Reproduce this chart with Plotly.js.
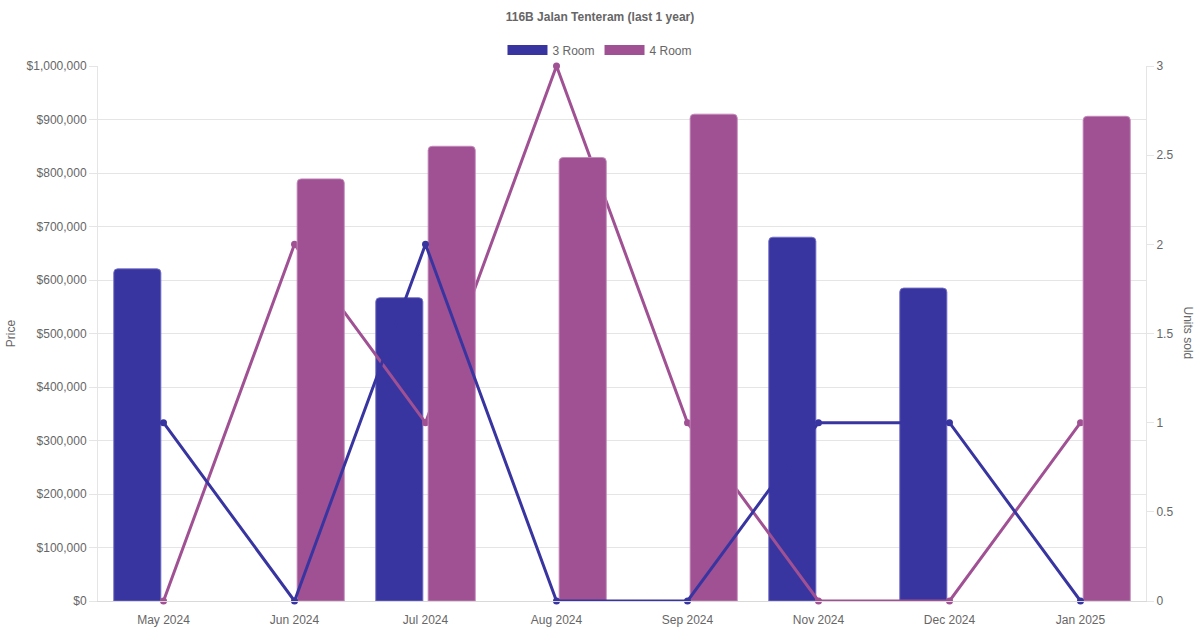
<!DOCTYPE html>
<html>
<head>
<meta charset="utf-8">
<script src="https://cdn.plot.ly/plotly-3.0.1.min.js"></script>
<style>
  html, body { margin: 0; padding: 0; background: #fff; }
  #chart { width: 1200px; height: 630px; }
</style>
</head>
<body>
<div id="chart"></div>
<script>
// Months shown (no sales data for Oct 2024)
const months = ['May 2024', 'Jun 2024', 'Jul 2024', 'Aug 2024', 'Sep 2024', 'Nov 2024', 'Dec 2024', 'Jan 2025'];

// Median price per month (null = no transaction that month)
const price3Room = [621000, null, 567000, null, null, 680000, 585000, null];
const price4Room = [null, 789000, 850000, 829000, 910000, null, null, 906000];

// Units sold per month
const units3Room = [1, 0, 2, 0, 0, 1, 1, 0];
const units4Room = [0, 2, 1, 3, 1, 0, 0, 1];

const COLOR_3 = '#3935a0';
const COLOR_4 = '#a05193';
const FONT = 'Liberation Sans, Arial, Helvetica, sans-serif';
const GRID = '#e5e5e5';

// Draw order (bottom → top) follows the reference:
//   3 Room bar (y), 4 Room line (y2), 4 Room bar (y3), 3 Room line (y4)
const traces = [
  {
    type: 'bar',
    name: '3 Room',
    x: months,
    y: price3Room,
    yaxis: 'y',
    offset: -0.38,
    width: 0.36,
    showlegend: false,
    marker: { color: COLOR_3, cornerradius: 4, line: { color: 'rgba(120,116,200,0.9)', width: 1 } },
    hovertemplate: '3 Room<br>%{x}: $%{y:,}<extra></extra>',
  },
  {
    type: 'scatter',
    mode: 'lines+markers',
    name: '4 Room units',
    x: months,
    y: units4Room,
    yaxis: 'y2',
    showlegend: false,
    cliponaxis: false,
    line: { color: COLOR_4, width: 3 },
    marker: { color: COLOR_4, size: 7 },
  },
  {
    type: 'bar',
    name: '4 Room',
    x: months,
    y: price4Room,
    yaxis: 'y3',
    offset: 0.02,
    width: 0.36,
    showlegend: false,
    marker: { color: COLOR_4, cornerradius: 4, line: { color: 'rgba(196,140,186,0.9)', width: 1 } },
    hovertemplate: '4 Room<br>%{x}: $%{y:,}<extra></extra>',
  },
  {
    type: 'scatter',
    mode: 'lines+markers',
    name: '3 Room units',
    x: months,
    y: units3Room,
    yaxis: 'y4',
    showlegend: false,
    cliponaxis: false,
    line: { color: COLOR_3, width: 3 },
    marker: { color: COLOR_3, size: 7 },
  },
  // Legend-only entries: wide boxes like the reference legend
  {
    type: 'scatter', mode: 'lines', name: '3 Room',
    x: [null], y: [null], hoverinfo: 'skip',
    line: { color: COLOR_3, width: 12 },
  },
  {
    type: 'scatter', mode: 'lines', name: '4 Room',
    x: [null], y: [null], hoverinfo: 'skip',
    line: { color: COLOR_4, width: 12 },
  },
];

const priceAxis = {
  range: [0, 1000000],
  autorange: false,
  dtick: 100000,
  tickprefix: '$',
  tickformat: ',d',
};
const unitsAxis = {
  range: [0, 3],
  autorange: false,
  dtick: 0.5,
};

const layout = {
  width: 1200,
  height: 630,
  paper_bgcolor: '#fff',
  plot_bgcolor: '#fff',
  font: { family: FONT, size: 12, color: '#666' },
  margin: { t: 66, r: 54, b: 29, l: 98 },
  title: {
    text: '<b>116B Jalan Tenteram (last 1 year)</b>',
    font: { family: FONT, size: 12, color: '#666' },
    x: 0.5,
    xref: 'container',
    y: 0.973,
    yanchor: 'middle',
  },
  showlegend: true,
  legend: {
    orientation: 'h',
    x: 0.479,
    xanchor: 'center',
    y: 1.03,
    yanchor: 'middle',
    font: { family: FONT, size: 12, color: '#666' },
    itemwidth: 40,
    bgcolor: 'rgba(0,0,0,0)',
  },
  xaxis: {
    type: 'category',
    categoryorder: 'array',
    categoryarray: months,
    range: [-0.5, months.length - 0.5],
    showgrid: false,
    zeroline: false,
    showline: true,
    linecolor: '#d9d9d9',
    ticks: 'outside',
    ticklen: 8,
    tickcolor: 'rgba(0,0,0,0)',
    tickfont: { family: FONT, size: 12, color: '#666' },
  },
  yaxis: {
    ...priceAxis,
    side: 'left',
    showgrid: true,
    gridcolor: GRID,
    zeroline: false,
    showline: true,
    linecolor: GRID,
    ticks: 'outside',
    ticklen: 8,
    tickcolor: GRID,
    tickfont: { family: FONT, size: 12, color: '#666' },
    title: { text: 'Price', font: { family: FONT, size: 12, color: '#666' }, standoff: 8 },
  },
  yaxis2: {
    ...unitsAxis,
    overlaying: 'y',
    side: 'right',
    showgrid: false,
    zeroline: false,
    showline: true,
    linecolor: GRID,
    ticks: 'outside',
    ticklen: 7,
    tickcolor: GRID,
    tickfont: { family: FONT, size: 12, color: '#666' },
  },
  yaxis3: { ...priceAxis, overlaying: 'y', visible: false },
  yaxis4: { ...unitsAxis, overlaying: 'y', visible: false },
  annotations: [
    {
      text: 'Units sold',
      xref: 'paper',
      yref: 'paper',
      x: 1.041,
      xanchor: 'center',
      y: 0.5,
      yanchor: 'middle',
      textangle: 90,
      showarrow: false,
      font: { family: FONT, size: 12, color: '#666' },
    },
  ],
};

const config = { displayModeBar: false, staticPlot: true };

Plotly.newPlot('chart', traces, layout, config);
</script>
</body>
</html>
